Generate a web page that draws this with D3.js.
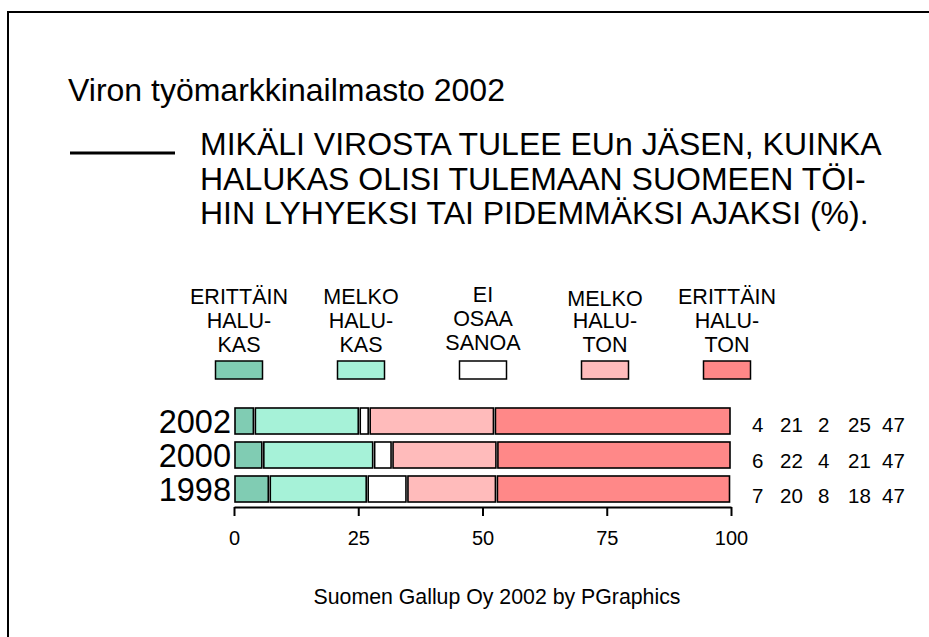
<!DOCTYPE html>
<html lang="fi">
<head>
<meta charset="UTF-8">
<title>Viron työmarkkinailmasto 2002</title>
<script src="https://d3js.org/d3.v7.min.js"></script>
<style>
  body { margin: 0; background: #fff; }
  svg text { font-family: "Liberation Sans", Arial, sans-serif; fill: #000; }
</style>
</head>
<body>
<svg id="chart" width="929" height="637"></svg>
<script>
// data
const years = ["2002", "2000", "1998"];
const keys = ["eh", "mh", "eos", "mt", "et"];
const legendLines = [
  ["ERITTÄIN", "HALU-", "KAS"],
  ["MELKO", "HALU-", "KAS"],
  ["EI", "OSAA", "SANOA"],
  ["MELKO", "HALU-", "TON"],
  ["ERITTÄIN", "HALU-", "TON"]
];
const colors = ["#80CCB3", "#A6F2D8", "#FFFFFF", "#FFBBBB", "#FF8888"];
// segment widths as drawn (%)
const v2002 = [4.1, 21.1, 2.0, 25.2, 47.6];
const v2000 = [5.8, 22.3, 3.7, 21.1, 47.1];
const v1998 = [7.1, 19.7, 8.0, 18.0, 47.1];
// printed numbers on the right
const n2002 = [4, 21, 2, 25, 47];
const n2000 = [6, 22, 4, 21, 47];
const n1998 = [7, 20, 8, 18, 47];
const xTicks = [0, 25, 50, 75, 100];

const title = "Viron työmarkkinailmasto 2002";
const subtitle = [
  "MIKÄLI VIROSTA TULEE EUn JÄSEN, KUINKA",
  "HALUKAS OLISI TULEMAAN SUOMEEN TÖI-",
  "HIN LYHYEKSI TAI PIDEMMÄKSI AJAKSI (%)."
];
const footer = "Suomen Gallup Oy 2002 by PGraphics";

const svg = d3.select("#chart");

// frame (only top and left edges fall inside the window)
svg.append("rect")
  .attr("x", 8).attr("y", 12).attr("width", 1000).attr("height", 700)
  .attr("fill", "none").attr("stroke", "#000").attr("stroke-width", 2);

svg.append("text").attr("x", 68).attr("y", 101)
  .style("font-size", "32px").text(title);

svg.append("line")
  .attr("x1", 70).attr("x2", 175).attr("y1", 153).attr("y2", 153)
  .attr("stroke", "#000").attr("stroke-width", 3);

svg.append("g").selectAll("text").data(subtitle).enter().append("text")
  .attr("x", 200)
  .attr("y", (d, i) => 155 + i * 34.5)
  .style("font-size", "32px")
  .text(d => d);

// legend
const legendX = d3.scalePoint().domain(keys).range([239, 727]);
const lg = svg.append("g").selectAll("g").data(keys).enter().append("g")
  .attr("transform", d => "translate(" + legendX(d) + ",0)");
lg.each(function(k, i) {
  d3.select(this).selectAll("text").data(legendLines[i]).enter().append("text")
    .attr("text-anchor", "middle")
    .attr("y", (d, j) => 304 + j * 24 - (i == 2 ? 2 : 0) + (i == 3 && j == 0 ? 2 : 0))
    .style("font-size", "21.5px")
    .text(d => d);
});
lg.append("rect")
  .attr("x", -23.5).attr("y", 361).attr("width", 47).attr("height", 18)
  .attr("fill", (d, i) => colors[i])
  .attr("stroke", "#000").attr("stroke-width", 1.5);

// bars
const rows = years.map((y, i) => {
  const vals = [v2002, v2000, v1998][i];
  const o = { year: y };
  keys.forEach((k, j) => o[k] = vals[j]);
  return o;
});
const numbers = [n2002, n2000, n1998];

const x = d3.scaleLinear().domain([0, 100]).range([234, 731]);
const y = d3.scaleBand().domain(years).range([404, 506]).paddingInner(0.235).paddingOuter(0.1175);

const series = d3.stack().keys(keys)(rows);

svg.append("g").selectAll("g").data(series).enter().append("g")
  .attr("fill", (d, i) => colors[i])
  .selectAll("rect").data(d => d).enter().append("rect")
  .attr("x", d => x(d[0]) + 1)
  .attr("width", d => Math.max(0, x(d[1]) - x(d[0]) - 2))
  .attr("y", d => y(d.data.year))
  .attr("height", y.bandwidth())
  .attr("stroke", "#000").attr("stroke-width", 1.6);

// year labels
svg.append("g").selectAll("text").data(years).enter().append("text")
  .attr("x", 231)
  .attr("y", d => y(d) + y.bandwidth() / 2 + 12)
  .attr("text-anchor", "end")
  .style("font-size", "32.5px")
  .text(d => d);

// printed values on the right
const colX = [752, 780, 818, 848, 882];
years.forEach((yr, i) => {
  svg.append("g").selectAll("text").data(numbers[i]).enter().append("text")
    .attr("x", (d, j) => colX[j])
    .attr("y", y(yr) + y.bandwidth() / 2 + 11 + i * 1.5)
    .style("font-size", "20.5px")
    .text(d => d);
});

// axis
const axis = svg.append("g").attr("transform", "translate(0,507)")
  .call(d3.axisBottom(x).tickValues(xTicks).tickSize(9).tickPadding(15).tickSizeOuter(0));
axis.select(".domain").attr("stroke", "#000").attr("stroke-width", 2);
axis.selectAll(".tick line").attr("stroke", "#000").attr("stroke-width", 2);
axis.selectAll(".tick text")
  .style("font-family", "'Liberation Sans', Arial, sans-serif")
  .style("font-size", "20px").attr("fill", "#000");

svg.append("text").attr("x", 497).attr("y", 604)
  .attr("text-anchor", "middle")
  .style("font-size", "21.3px")
  .text(footer);
</script>
</body>
</html>
